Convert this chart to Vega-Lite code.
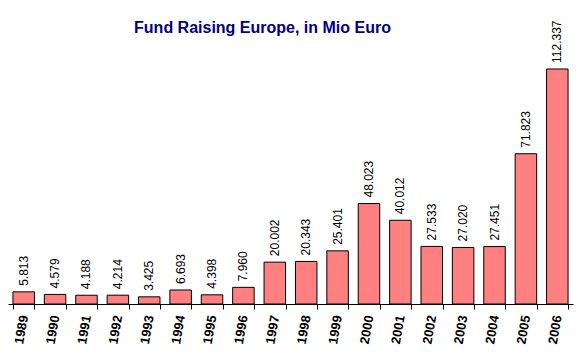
{
  "$schema": "https://vega.github.io/schema/vega-lite/v6.json",
  "width": 565,
  "height": 250,
  "autosize": {"type": "none"},
  "padding": {"left": 8, "top": 54, "right": 6, "bottom": 56},
  "background": "white",
  "config": {"view": {"stroke": null}, "font": "Liberation Sans"},
  "title": {
    "text": "Fund Raising Europe, in Mio Euro",
    "font": "Liberation Sans",
    "fontSize": 16,
    "fontWeight": "bold",
    "color": "#000080",
    "frame": "group",
    "anchor": "middle",
    "dx": -28,
    "offset": -16
  },
  "data": {
    "values": [
      {"year": "1989", "value": 5.813},
      {"year": "1990", "value": 4.579},
      {"year": "1991", "value": 4.188},
      {"year": "1992", "value": 4.214},
      {"year": "1993", "value": 3.425},
      {"year": "1994", "value": 6.693},
      {"year": "1995", "value": 4.398},
      {"year": "1996", "value": 7.960},
      {"year": "1997", "value": 20.002},
      {"year": "1998", "value": 20.343},
      {"year": "1999", "value": 25.401},
      {"year": "2000", "value": 48.023},
      {"year": "2001", "value": 40.012},
      {"year": "2002", "value": 27.533},
      {"year": "2003", "value": 27.020},
      {"year": "2004", "value": 27.451},
      {"year": "2005", "value": 71.823},
      {"year": "2006", "value": 112.337}
    ]
  },
  "encoding": {
    "x": {
      "field": "year",
      "type": "ordinal",
      "scale": {"paddingInner": 0.315, "paddingOuter": 0.1575},
      "axis": {
        "title": null,
        "labelAngle": -80,
        "labelAlign": "right",
        "labelBaseline": "middle",
        "labelFont": "Liberation Sans",
        "labelFontSize": 13,
        "labelFontWeight": "bold",
        "labelColor": "black",
        "labelPadding": 6,
        "domainColor": "black",
        "tickColor": "black",
        "tickSize": 5,
        "tickBand": "extent"
      }
    },
    "y": {
      "field": "value",
      "type": "quantitative",
      "scale": {"domain": [0, 119.5]},
      "axis": null
    }
  },
  "layer": [
    {
      "mark": {"type": "bar", "color": "#FF8080", "stroke": "black", "strokeWidth": 1}
    },
    {
      "mark": {
        "type": "text",
        "angle": 270,
        "align": "left",
        "baseline": "middle",
        "dx": 6,
        "fontSize": 12,
        "font": "Liberation Sans",
        "color": "black"
      },
      "encoding": {
        "text": {"field": "value", "type": "quantitative", "format": ".3f"}
      }
    }
  ]
}
